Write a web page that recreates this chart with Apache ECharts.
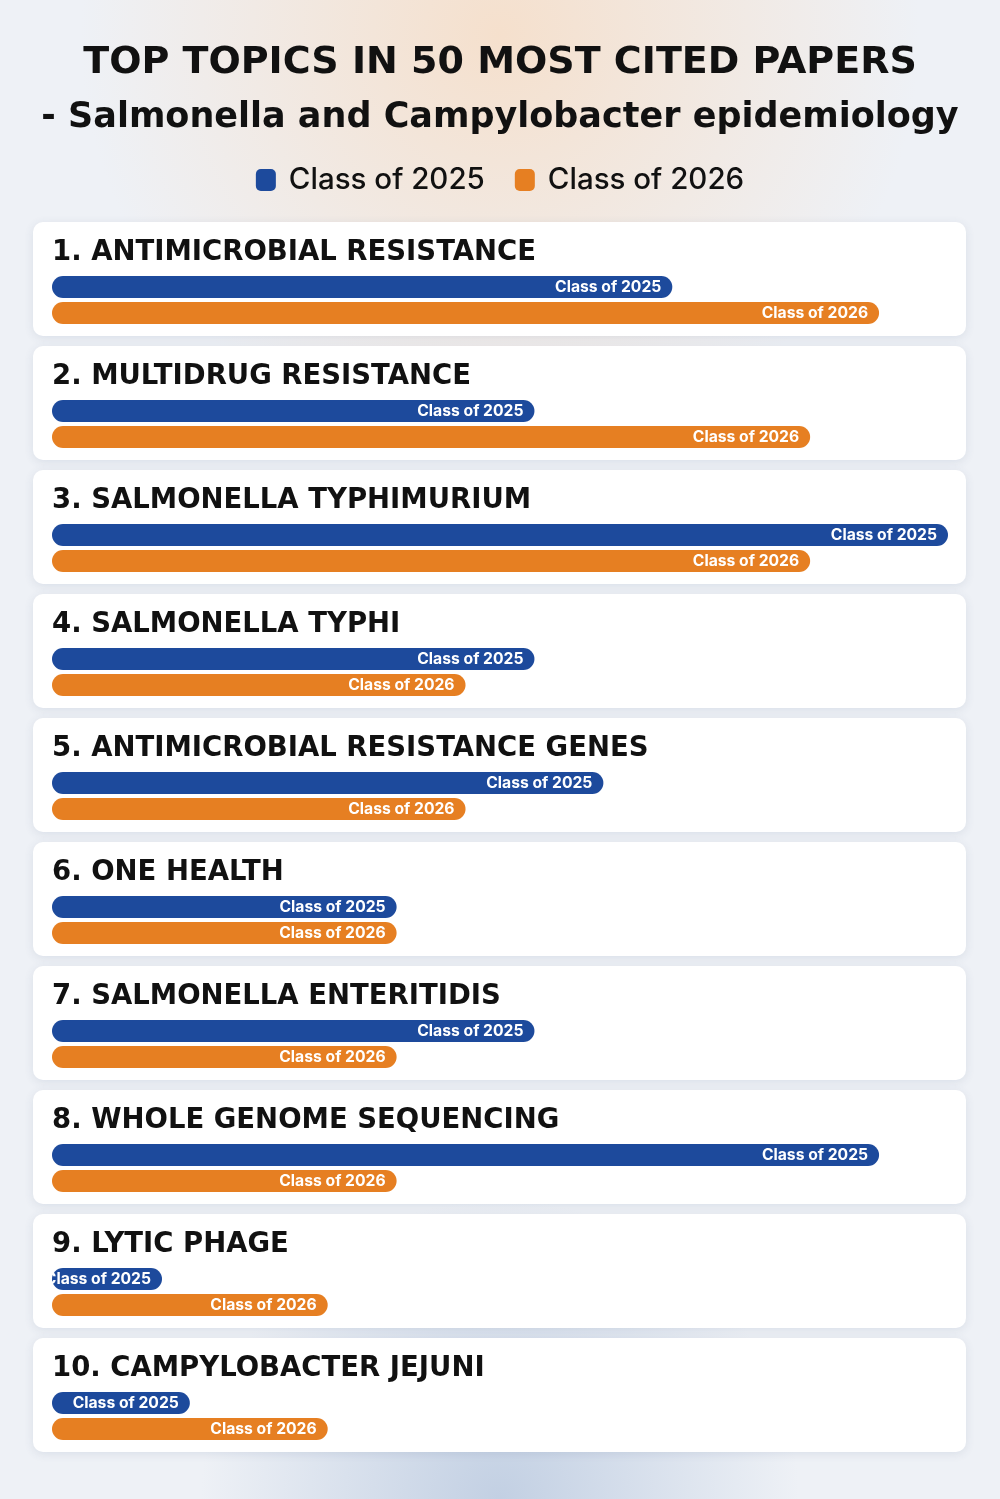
<!DOCTYPE html>
<html>
<head>
<meta charset="utf-8">
<script src="https://cdn.jsdelivr.net/npm/echarts@6/dist/echarts.min.js"></script>
<style>
  html, body { margin: 0; padding: 0; background: #eef1f6; }
  #chart { width: 1000px; height: 1499px; }
</style>
</head>
<body>
<div id="chart"></div>
<script>
// data
var topics = [
    '1. ANTIMICROBIAL RESISTANCE',
    '2. MULTIDRUG RESISTANCE',
    '3. SALMONELLA TYPHIMURIUM',
    '4. SALMONELLA TYPHI',
    '5. ANTIMICROBIAL RESISTANCE GENES',
    '6. ONE HEALTH',
    '7. SALMONELLA ENTERITIDIS',
    '8. WHOLE GENOME SEQUENCING',
    '9. LYTIC PHAGE',
    '10. CAMPYLOBACTER JEJUNI'
];
var class2025 = [9, 7, 13, 7, 8, 5, 7, 12, 1, 2];
var class2026 = [12, 11, 11, 6, 6, 5, 5, 5, 4, 4];
var seriesNames = ['Class of 2025', 'Class of 2026'];
var colors = ['#1d4a9c', '#e67f22'];

var chart = echarts.init(document.getElementById('chart'));

var PANEL_TOP = 222, PANEL_STEP = 124, PANEL_H = 114;
var grids = [], xAxes = [], yAxes = [], series = [], titles = [], graphics = [];
var headFont = 'DejaVu Sans';

// background
graphics.push({
    type: 'rect', z: -10, silent: true,
    shape: {x: 0, y: 0, width: 1000, height: 1499},
    style: {fill: '#eef1f6'}
});
graphics.push({
    type: 'rect', z: -9, silent: true,
    shape: {x: 0, y: 0, width: 1000, height: 700},
    style: {fill: new echarts.graphic.RadialGradient(0.5, 0.05, 0.6, [
        {offset: 0, color: 'rgba(246,222,200,0.9)'},
        {offset: 1, color: 'rgba(246,222,200,0)'}
    ])}
});
graphics.push({
    type: 'rect', z: -9, silent: true,
    shape: {x: 0, y: 1100, width: 1000, height: 399},
    style: {fill: new echarts.graphic.RadialGradient(0.5, 1, 0.75, [
        {offset: 0, color: 'rgba(192,206,226,0.95)'},
        {offset: 1, color: 'rgba(192,206,226,0)'}
    ])}
});

titles.push({
    text: 'TOP TOPICS IN 50 MOST CITED PAPERS',
    left: 'center', top: 39,
    textStyle: {fontFamily: headFont, fontWeight: 'bold', fontSize: 38, lineHeight: 38, color: '#111'}
});
titles.push({
    text: '- Salmonella and Campylobacter epidemiology',
    left: 'center', top: 95,
    textStyle: {fontFamily: headFont, fontWeight: 'bold', fontSize: 35, lineHeight: 35, color: '#111'}
});

topics.forEach(function (name, i) {
    var top = PANEL_TOP + PANEL_STEP * i;
    graphics.push({
        type: 'rect', z: -5, silent: true,
        shape: {x: 33, y: top, width: 933, height: PANEL_H, r: 10},
        style: {fill: '#fff', shadowBlur: 10, shadowColor: 'rgba(60,80,120,0.12)', shadowOffsetY: 2}
    });
    titles.push({
        text: name, left: 47, top: top + 12,
        textStyle: {fontFamily: headFont, fontWeight: 'bold', fontSize: 27.5, lineHeight: 28, color: '#111'}
    });
    grids.push({left: 52, width: 896, top: top + 52, height: 52});
    xAxes.push({gridIndex: i, type: 'value', min: 0, max: 13, show: false});
    yAxes.push({gridIndex: i, type: 'category', data: seriesNames, inverse: true, show: false});
    [class2025, class2026].forEach(function (arr, k) {
        var data = k === 0 ? [arr[i], '-'] : ['-', arr[i]];
        series.push({
            name: seriesNames[k], type: 'bar',
            xAxisIndex: i, yAxisIndex: i,
            data: data, barWidth: 22, barGap: '-100%', barMinHeight: 110,
            itemStyle: {color: colors[k], borderRadius: 11},
            label: {
                show: true, position: 'insideRight', distance: 11,
                formatter: seriesNames[k],
                color: '#fff', fontFamily: 'Inter', fontWeight: 700, fontSize: 15.7
            }
        });
    });
});

chart.setOption({
    animation: false,
    title: titles,
    legend: {
        data: seriesNames, top: 160, left: 'center',
        icon: 'roundRect', itemWidth: 20, itemHeight: 22, itemGap: 30,
        textStyle: {fontFamily: 'Inter', fontWeight: 500, fontSize: 29.5, lineHeight: 22,
            color: '#111', padding: [0, 0, 0, 8]}
    },
    graphic: graphics,
    grid: grids,
    xAxis: xAxes,
    yAxis: yAxes,
    series: series
});
</script>
</body>
</html>
